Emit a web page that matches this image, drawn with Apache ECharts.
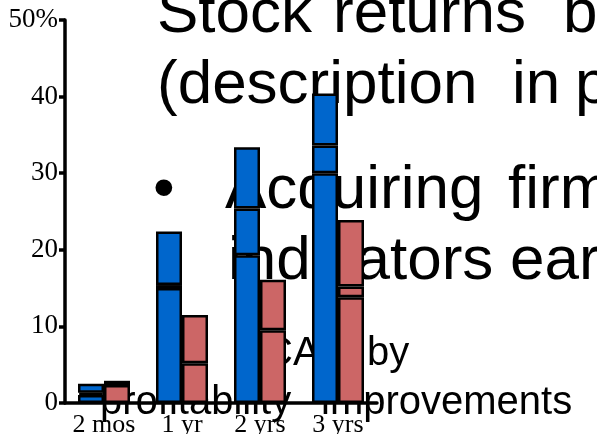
<!DOCTYPE html>
<html>
<head>
<meta charset="utf-8">
<script src="https://cdn.jsdelivr.net/npm/echarts@6/dist/echarts.min.js"></script>
<style>
html,body{margin:0;padding:0;background:#fff;}
#chart{width:597px;height:434px;}
</style>
</head>
<body>
<div id="chart"></div>
<script>
// ---- data ----
var categories = ['2 mos', '1 yr', '2 yrs', '3 yrs'];
// blue bars: levels of internal lines and bar top (%)
var blueLow = [1.05, 15.0, 19.3, 30.0];
var blueMid = [1.35, 15.4, 25.4, 33.6];
var blueTop = [2.5, 22.4, 33.4, 40.4];
// red bars: levels of internal lines and bar top (%)
var redLow = [2.35, 5.2, 9.5, 13.8];
var redMid = [null, null, null, 15.2];
var redTop = [2.9, 11.5, 16.1, 23.9];
var yTicks = [0, 10, 20, 30, 40, 50];

// background slide text
var slideBig = [
  {t: 'Stock', x: 157, b: 37}, {t: 'returns', x: 333, b: 37}, {t: 'b', x: 563, b: 37},
  {t: '(description', x: 157, b: 108}, {t: 'in', x: 512, b: 108}, {t: 'p', x: 575, b: 108},
  {t: '\u2022', x: 153, b: 213}, {t: 'Acquiring', x: 225, b: 213}, {t: 'firm', x: 508, b: 213},
  {t: 'indicators', x: 228, b: 284}, {t: 'ear', x: 510, b: 284}
];
var slideSmall = [
  {t: 'CAR', x: 264, b: 368}, {t: 'by', x: 367, b: 368},
  {t: 'profitability', x: 100, b: 417}, {t: 'improvements', x: 321, b: 417}
];

// ---- build ----
function diff(a, b) {
  return a.map(function (v, i) {
    if (v == null) return '-';
    var base = b[i] == null ? 0 : b[i];
    return +(v - base).toFixed(3);
  });
}
var blueSeg = [blueLow, diff(blueMid, blueLow), diff(blueTop, blueMid)];
var redUpperBase = redMid.map(function (v, i) { return v == null ? redLow[i] : v; });
var redSeg = [redLow, diff(redMid, redLow), diff(redTop, redUpperBase)];

var BLUE = '#0066CC', RED = '#CC6666';
var series = [];
blueSeg.forEach(function (d) {
  series.push({type: 'bar', stack: 'blue', data: d, barWidth: 26, barGap: '0%',
    itemStyle: {color: BLUE, borderColor: '#000', borderWidth: 2.5}, silent: true, z: 3});
});
redSeg.forEach(function (d) {
  series.push({type: 'bar', stack: 'red', data: d, barWidth: 26, barGap: '0%',
    itemStyle: {color: RED, borderColor: '#000', borderWidth: 2.5}, silent: true, z: 3});
});

var graphics = [];
slideBig.forEach(function (w) {
  graphics.push({type: 'text', z: 0, silent: true,
    style: {text: w.t, x: w.x, y: w.b - 22, font: '62px "Liberation Sans", Arial, sans-serif',
      fill: '#000', textAlign: 'left', textVerticalAlign: 'middle'}});
});
slideSmall.forEach(function (w) {
  graphics.push({type: 'text', z: 0, silent: true,
    style: {text: w.t, x: w.x, y: w.b - 14, font: '40px "Liberation Sans", Arial, sans-serif',
      fill: '#000', textAlign: 'left', textVerticalAlign: 'middle'}});
});

var chart = echarts.init(document.getElementById('chart'), null, {renderer: 'canvas'});
chart.setOption({
  backgroundColor: '#fff',
  animation: false,
  grid: {left: 65, top: 20, width: 312, bottom: 31, containLabel: false, outerBoundsMode: 'none'},
  graphic: graphics,
  xAxis: {
    type: 'category', data: categories,
    axisLine: {lineStyle: {color: '#000', width: 3.5}},
    axisTick: {show: false},
    axisLabel: {color: '#000', fontFamily: '"Liberation Serif", "Times New Roman", serif', fontSize: 26,
      margin: 9, interval: 0, hideOverlap: false},
    z: 4
  },
  yAxis: {
    type: 'value', min: yTicks[0], max: yTicks[yTicks.length - 1], interval: 10,
    splitLine: {show: false},
    axisLine: {show: true, lineStyle: {color: '#000', width: 3.5}},
    axisTick: {show: true, length: 6, lineStyle: {color: '#000', width: 3.5}},
    axisLabel: {color: '#000', fontFamily: '"Liberation Serif", "Times New Roman", serif', fontSize: 27, margin: 7,
      formatter: function (v) { return v === yTicks[yTicks.length - 1] ? v + '%' : String(v); }},
    z: 4
  },
  series: series
});
</script>
</body>
</html>
